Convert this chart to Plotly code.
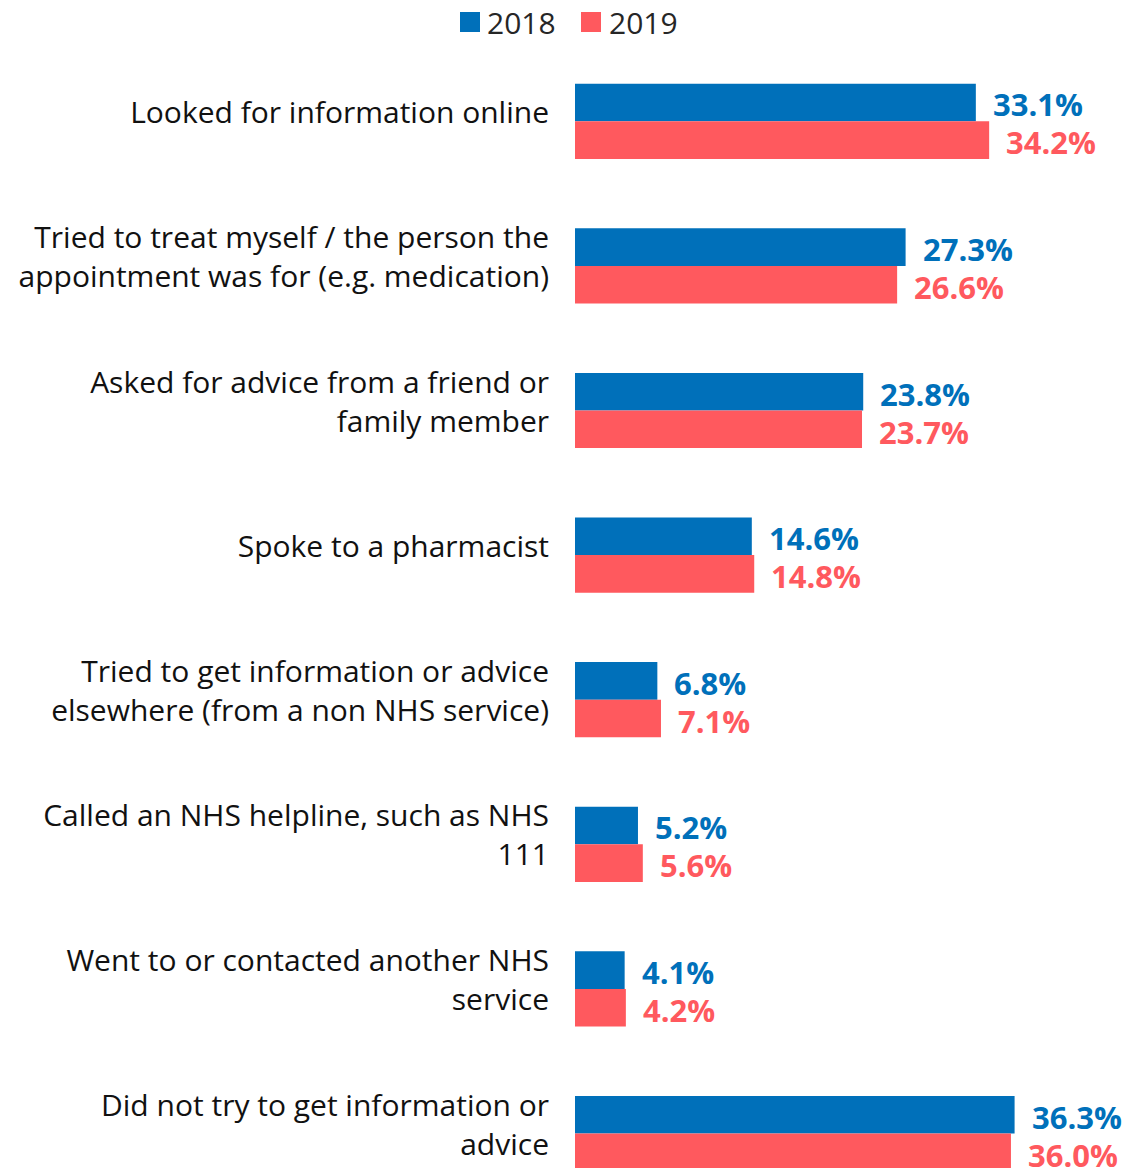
import plotly.graph_objects as go

categories = [
    "Looked for information online",
    "Tried to treat myself / the person the<br>appointment was for (e.g. medication)",
    "Asked for advice from a friend or<br>family member",
    "Spoke to a pharmacist",
    "Tried to get information or advice<br>elsewhere (from a non NHS service)",
    "Called an NHS helpline, such as NHS<br>111",
    "Went to or contacted another NHS<br>service",
    "Did not try to get information or<br>advice",
]
values_2018 = [33.1, 27.3, 23.8, 14.6, 6.8, 5.2, 4.1, 36.3]
values_2019 = [34.2, 26.6, 23.7, 14.8, 7.1, 5.6, 4.2, 36.0]
series_names = ["2018", "2019"]
colors = ["#0070BA", "#FF595E"]

FONT = "Open Sans, Noto Sans, sans-serif"
OFF = 8  # default body margin of the page
W, H = 1142 - OFF, 1168 - OFF
ML, MT = 575 - OFF, 49 - OFF
PX_PER_CAT = 144.6

fig = go.Figure()
for name, vals, col in zip(series_names, [values_2018, values_2019], colors):
    fig.add_trace(go.Bar(
        y=categories, x=vals, name=name, orientation="h",
        marker=dict(color=col, line=dict(width=0)),
        showlegend=False,
    ))

annotations = []
for vals, col, ys in [(values_2018, colors[0], 17), (values_2019, colors[1], -21)]:
    for c, v in zip(categories, vals):
        annotations.append(dict(
            x=v, y=c, xref="x", yref="y", text=f"{v:.1f}%", showarrow=False,
            xanchor="left", yanchor="middle", xshift=15, yshift=ys,
            font=dict(family=FONT, size=31, color=col, weight="bold"),
        ))

# legend drawn manually (larger squares)
shapes = []
leg = [(-115, -95, -89), (6, 26, 33)]
for (x0, x1, tx), name, col in zip(leg, series_names, colors):
    shapes.append(dict(type="rect", xref="paper", yref="paper",
                       xsizemode="pixel", ysizemode="pixel",
                       xanchor=0, yanchor=1, x0=x0, x1=x1, y0=17, y1=37,
                       fillcolor=col, line=dict(width=0)))
    annotations.append(dict(x=0, y=1, xref="paper", yref="paper", text=name,
                            showarrow=False, xanchor="left", yanchor="middle",
                            xshift=tx, yshift=27, height=30, valign="middle",
                            borderpad=0,
                            font=dict(family=FONT, size=30, color="#262626")))

plot_h = H - MT
ncat_visible = plot_h / PX_PER_CAT
x_max = (W - ML) / 12.11

fig.update_layout(
    width=W, height=H,
    margin=dict(l=ML, r=0, t=MT, b=0, autoexpand=False),
    paper_bgcolor="white", plot_bgcolor="white",
    barmode="group", bargap=0.48, bargroupgap=0,
    font=dict(family=FONT, color="#111111"),
    xaxis=dict(range=[0, x_max], visible=False, fixedrange=True),
    yaxis=dict(range=[ncat_visible - 0.5, -0.5], type="category",
               showgrid=False, zeroline=False, showline=False, ticks="",
               ticklabelstandoff=25, ticklabelshift=9, automargin=False,
               tickfont=dict(family=FONT, size=30, color="#111111")),
    shapes=shapes, annotations=annotations,
)

fig.write_html("out.html")
